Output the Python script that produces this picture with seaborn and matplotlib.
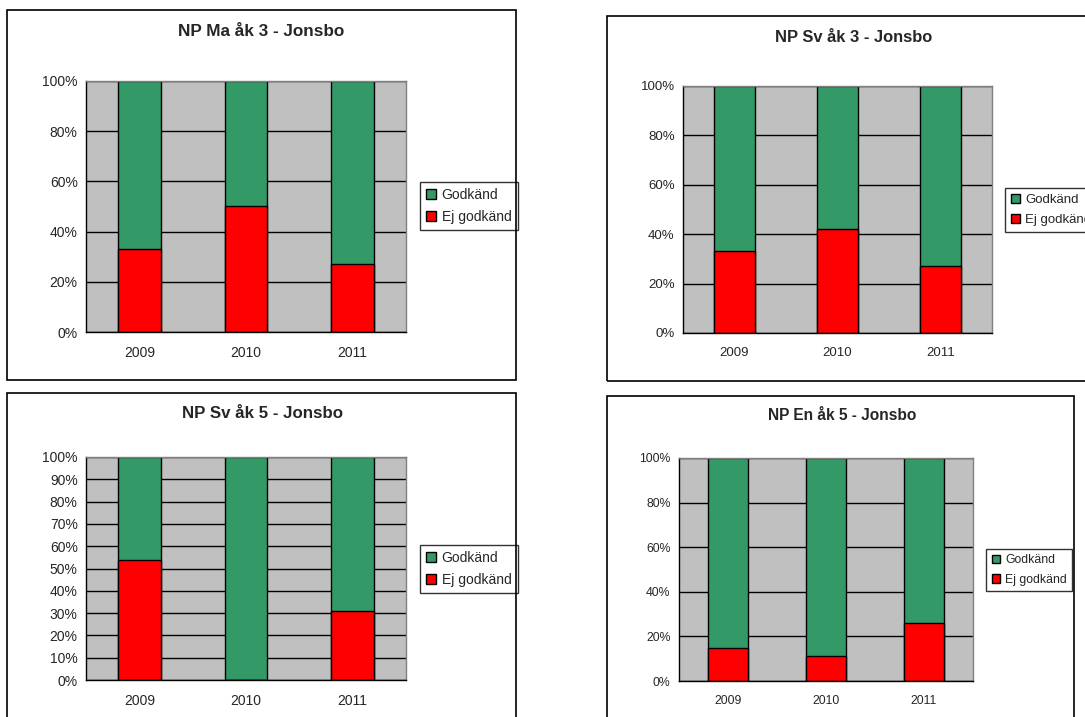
import matplotlib
matplotlib.use("Agg")
import matplotlib.pyplot as plt
from matplotlib.patches import Patch, Rectangle
import pandas as pd
import seaborn as sns

# data: share of pupils (%) per year
years = ["2009", "2010", "2011"]

ma3_title = "NP Ma åk 3 - Jonsbo"
ma3_ej = [33, 50, 27]
ma3_god = [67, 50, 73]

sv3_title = "NP Sv åk 3 - Jonsbo"
sv3_ej = [33, 42, 27]
sv3_god = [67, 58, 73]

sv5_title = "NP Sv åk 5 - Jonsbo"
sv5_ej = [54, 0, 31]
sv5_god = [46, 100, 69]

en5_title = "NP En åk 5 - Jonsbo"
en5_ej = [15, 11, 26]
en5_god = [85, 89, 74]

GREEN = "#339966"
RED = "#FF0000"
BG = "#C0C0C0"

W, H = 1085, 717

sns.set_style("white")
plt.rcParams["font.family"] = ["Liberation Sans", "DejaVu Sans"]

fig = plt.figure(figsize=(W / 100, H / 100), dpi=100)
fig.patch.set_facecolor("white")


def fx(px):
    return px / W


def fy(py):
    return 1 - py / H


# layout in pixels: axes box, frame box, title centre, legend left/centre, y step, font size, title size
layout = [
    (ma3_title, ma3_ej, ma3_god, (86, 81, 406, 332), (7, 10, 516, 380), (261, 32), (420, 206), 20, 10, 12.3),
    (sv3_title, sv3_ej, sv3_god, (683, 86, 992, 333), (607, 16, 1100, 381), (854, 38), (1005, 210), 20, 9.5, 11.9),
    (sv5_title, sv5_ej, sv5_god, (86, 457, 406, 680), (7, 393, 516, 730), (262, 414), (420, 569), 10, 10, 12.2),
    (en5_title, en5_ej, en5_god, (679, 458, 973, 681), (607, 396, 1074, 730), (842, 415), (986, 570), 20, 8.8, 11.2),
]

for title, ej, god, box, frame, tpos, lpos, step, fs, tfs in layout:
    x0, y0, x1, y1 = box
    ax = fig.add_axes([fx(x0), fy(y1), (x1 - x0) / W, (y1 - y0) / H])

    df = pd.DataFrame({"year": years, "ej": ej, "god": god})
    df["total"] = df["ej"] + df["god"]

    ax.set_facecolor(BG)
    sns.barplot(data=df, x="year", y="total", color=GREEN, saturation=1,
                width=0.4, edgecolor="black", linewidth=1, ax=ax)
    sns.barplot(data=df, x="year", y="ej", color=RED, saturation=1,
                width=0.4, edgecolor="black", linewidth=1, ax=ax)

    ax.set_xlim(-0.5, 2.5)
    ax.set_ylim(0, 100)
    ax.set_xlabel("")
    ax.set_ylabel("")

    yt = list(range(0, 101, step))
    ax.set_yticks(yt)
    ax.set_yticklabels([f"{v}%" for v in yt], fontsize=fs)
    ax.set_xticks([-0.5, 0.5, 1.5, 2.5])
    ax.set_xticklabels([])
    ax.set_xticks([0, 1, 2], minor=True)
    ax.set_xticklabels(years, minor=True, fontsize=fs)
    ax.tick_params(axis="x", which="major", direction="out", length=5, width=1, color="black")
    ax.tick_params(axis="x", which="minor", length=0, pad=10)
    ax.tick_params(axis="y", direction="out", length=4, width=1, color="black", pad=2)

    ax.yaxis.grid(True, color="black", linewidth=1)
    ax.set_axisbelow(True)

    for s in ["left", "bottom"]:
        ax.spines[s].set_color("black")
        ax.spines[s].set_linewidth(1)
    for s in ["top", "right"]:
        ax.spines[s].set_color("#808080")
        ax.spines[s].set_linewidth(1)

    handles = [Patch(facecolor=GREEN, edgecolor="black", label="Godkänd"),
               Patch(facecolor=RED, edgecolor="black", label="Ej godkänd")]
    leg = ax.legend(handles=handles, loc="center left",
                    bbox_to_anchor=(fx(lpos[0]), fy(lpos[1])),
                    bbox_transform=fig.transFigure, frameon=True, fancybox=False,
                    edgecolor="black", fontsize=fs, handlelength=0.7,
                    handleheight=0.7, handletextpad=0.4, borderpad=0.45,
                    labelspacing=0.6, borderaxespad=0)
    leg.get_frame().set_linewidth(1)

    fig.text(fx(tpos[0]), fy(tpos[1]), title, ha="center", va="center",
             fontsize=tfs, fontweight="bold")

    fx0, fy0, fx1, fy1 = frame
    fig.add_artist(Rectangle((fx(fx0), fy(fy1)), (fx1 - fx0) / W, (fy1 - fy0) / H,
                             transform=fig.transFigure, fill=False,
                             edgecolor="black", linewidth=1.2))

fig.savefig("out.png", dpi=100)
